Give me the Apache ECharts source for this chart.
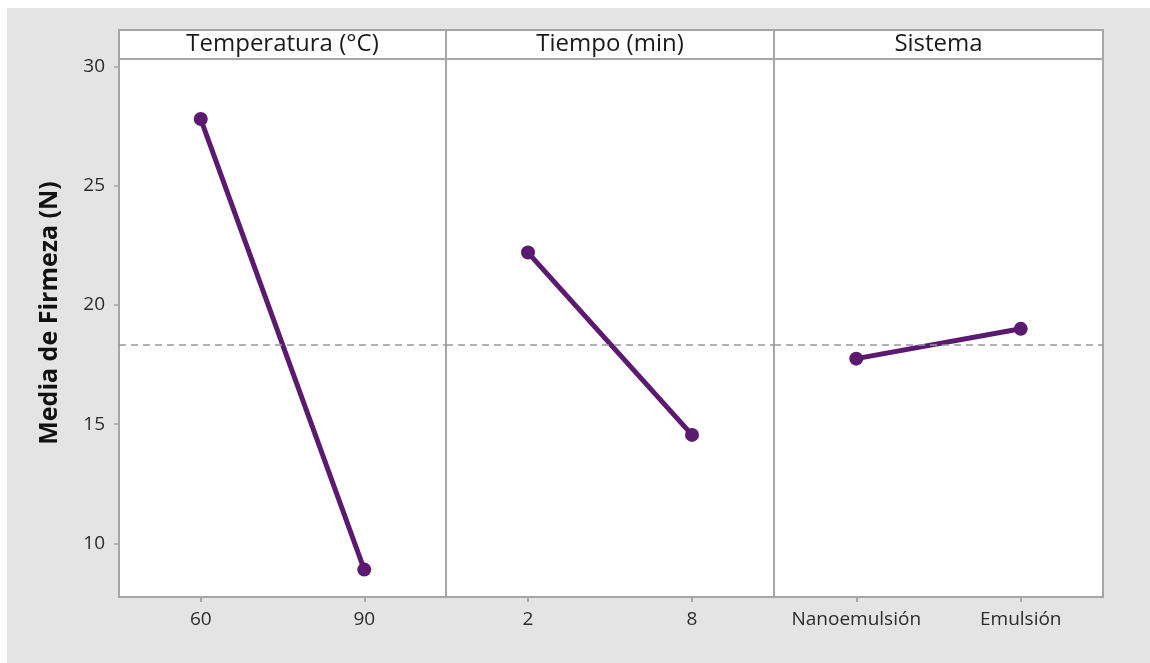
<!DOCTYPE html>
<html>
<head>
<meta charset="utf-8">
<script src="https://cdn.jsdelivr.net/npm/echarts@6/dist/echarts.min.js"></script>
<style>
  html, body { margin: 0; padding: 0; background: #ffffff; }
  #chart { width: 1150px; height: 663px; }
</style>
</head>
<body>
<div id="chart"></div>
<script>
// Main effects for firmness: one panel per factor
const panelTitles = ['Temperatura (°C)', 'Tiempo (min)', 'Sistema'];
const tempLevels = ['60', '90'];
const tempMeans = [27.8, 8.9];
const timeLevels = ['2', '8'];
const timeMeans = [22.2, 14.55];
const systemLevels = ['Nanoemulsión', 'Emulsión'];
const systemMeans = [17.75, 19.0];
const grandMean = 18.35;
const yTickValues = [10, 15, 20, 25, 30];
const yAxisTitle = 'Media de Firmeza (N)';

const levels = [tempLevels, timeLevels, systemLevels];
const means = [tempMeans, timeMeans, systemMeans];

// Layout
const FONT = '"Open Sans", "Noto Sans", sans-serif';
const plotLeft = 119, plotTop = 59, plotBottom = 597, headerTop = 30;
const panelWidths = [327, 328, 329];
const panelLefts = [plotLeft, plotLeft + panelWidths[0], plotLeft + panelWidths[0] + panelWidths[1]];
const frameColor = '#a6a6a6';
const lineColor = '#5b1a70';
const yMin = 7.75, yMax = 30.32;

const grids = [], xAxes = [], yAxes = [], series = [], headerTexts = [];

panelLefts.forEach((left, i) => {
  // data panel
  grids.push({
    left: left, width: panelWidths[i], top: plotTop, height: plotBottom - plotTop,
    show: true, backgroundColor: '#ffffff', borderColor: frameColor, borderWidth: 2
  });
  // header strip
  grids.push({
    left: left, width: panelWidths[i], top: headerTop, height: plotTop - headerTop,
    show: true, backgroundColor: '#ffffff', borderColor: frameColor, borderWidth: 2
  });
  headerTexts.push({
    type: 'text', z: 10,
    x: left + panelWidths[i] / 2, y: (headerTop + plotTop) / 2,
    style: {
      text: panelTitles[i], fontFamily: FONT, fontSize: 24, fill: '#1a1a1a',
      textAlign: 'center', textVerticalAlign: 'middle'
    }
  });
});

panelLefts.forEach((left, i) => {
  xAxes.push({
    type: 'category', gridIndex: i * 2, data: levels[i], boundaryGap: true,
    axisLine: { show: false },
    axisTick: { show: true, alignWithLabel: true, interval: 0, length: 5, lineStyle: { color: frameColor, width: 2 } },
    axisLabel: { interval: 0, hideOverlap: false, margin: 13, fontFamily: FONT, fontSize: 19, color: '#2b2b2b' },
    splitLine: { show: false }
  });
  yAxes.push({
    type: 'value', gridIndex: i * 2, min: yMin, max: yMax,
    axisLine: { show: false },
    axisTick: { show: i === 0, length: 5, customValues: yTickValues, lineStyle: { color: frameColor, width: 1.5 } },
    axisLabel: { show: i === 0, customValues: yTickValues, margin: 14, fontFamily: FONT, fontSize: 19, color: '#2b2b2b' },
    splitLine: { show: false }
  });
  series.push({
    type: 'line', xAxisIndex: i, yAxisIndex: i, data: means[i],
    symbol: 'circle', symbolSize: 14,
    lineStyle: { color: lineColor, width: 5 },
    itemStyle: { color: lineColor },
    z: 3,
    markLine: {
      silent: true, symbol: 'none', label: { show: false },
      lineStyle: { type: [7, 5], color: '#999999', width: 1.5 },
      data: [{ yAxis: grandMean }]
    }
  });
});

// header strips need axes too (hidden)
panelLefts.forEach((left, i) => {
  xAxes.push({ type: 'value', gridIndex: i * 2 + 1, show: false });
  yAxes.push({ type: 'value', gridIndex: i * 2 + 1, show: false });
});

const chart = echarts.init(document.getElementById('chart'), null, { renderer: 'canvas' });
chart.setOption({
  animation: false,
  backgroundColor: '#ffffff',
  grid: grids,
  xAxis: xAxes,
  yAxis: yAxes,
  series: series,
  graphic: [
    { type: 'rect', z: -10, shape: { x: 7, y: 8, width: 1143, height: 655 }, style: { fill: '#e4e4e4' } },
    {
      type: 'text', x: 50, y: 313, rotation: Math.PI / 2,
      style: {
        text: yAxisTitle, fontFamily: FONT, fontSize: 25, fontWeight: 'bold', fill: '#111111',
        textAlign: 'center', textVerticalAlign: 'middle'
      }
    }
  ].concat(headerTexts)
});
</script>
</body>
</html>
